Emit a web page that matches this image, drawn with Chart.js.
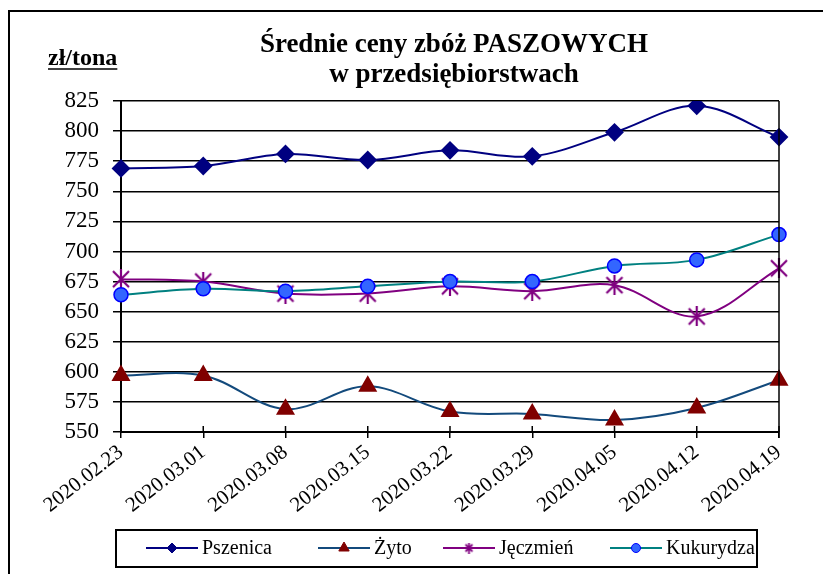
<!DOCTYPE html>
<html>
<head>
<meta charset="utf-8">
<script src="https://cdn.jsdelivr.net/npm/chart.js@4.4.1/dist/chart.umd.min.js"></script>
<style>
html,body{margin:0;padding:0;background:#fff;}
canvas{display:block;}
</style>
</head>
<body>
<canvas id="c" width="823" height="574"></canvas>
<script>
const categories = ['2020.02.23','2020.03.01','2020.03.08','2020.03.15','2020.03.22','2020.03.29','2020.04.05','2020.04.12','2020.04.19'];
const seriesNames = ['Pszenica','Żyto','Jęczmień','Kukurydza'];
const pszenica  = [769, 771, 781, 776, 784, 779, 799, 821, 795];
const zyto      = [597, 597, 569, 588, 567, 565, 560, 570, 593];
const jeczmien  = [677, 675, 665, 665, 671, 667, 672, 646, 686];
const kukurydza = [664, 669, 667, 671, 675, 675, 688, 693, 714];
const yMin = 550, yMax = 825, yStep = 25;
const titleLines = ['Średnie ceny zbóż PASZOWYCH','w przedsiębiorstwach'];
const unitLabel = 'zł/tona';

const FONT = "'Liberation Serif', 'Times New Roman', serif";

function makeStar(size, color, lw){
  const c = document.createElement('canvas');
  c.width = size; c.height = size;
  const g = c.getContext('2d');
  g.strokeStyle = color; g.lineWidth = lw;
  const m = 2, s = size;
  g.beginPath();
  g.moveTo(m, m); g.lineTo(s-m, s-m);
  g.moveTo(s-m, m); g.lineTo(m, s-m);
  g.moveTo(s/2, 0); g.lineTo(s/2, s);
  g.stroke();
  return c;
}
const starBig = makeStar(20, '#800080', 2.2);
const starSmall = makeStar(11, '#800080', 1.8);

const datasets = [
  {label: seriesNames[0], data: pszenica, borderColor:'#000080', backgroundColor:'#000080',
   pointBackgroundColor:'#000080', pointBorderColor:'#000080', pointStyle:'rectRot', pointRadius:8, order:4},
  {label: seriesNames[1], data: zyto, borderColor:'#134a7c', backgroundColor:'#800000',
   pointBackgroundColor:'#800000', pointBorderColor:'#800000', pointStyle:'triangle', pointRadius:9, order:3},
  {label: seriesNames[2], data: jeczmien, borderColor:'#800080', backgroundColor:'#800080',
   pointBackgroundColor:'#800080', pointBorderColor:'#800080', pointStyle:starBig, pointRadius:10, order:2},
  {label: seriesNames[3], data: kukurydza, borderColor:'#008080', backgroundColor:'#3366ff',
   pointBackgroundColor:'#3366ff', pointBorderColor:'#0000ff', pointBorderWidth:1.5, pointStyle:'circle', pointRadius:7, order:1}
];
datasets.forEach(d => { d.borderWidth = 2; d.tension = 0.35; d.fill = false; d.pointHoverRadius = d.pointRadius; });

const legendMarkers = [
  {style:'rectRot', r:5, fill:'#000080', stroke:'#000080'},
  {style:'triangle', r:6, fill:'#800000', stroke:'#800000'},
  {style:starSmall, r:6, fill:'#800080', stroke:'#800080'},
  {style:'circle', r:4.5, fill:'#3366ff', stroke:'#0000ff'}
];
const legendLineColors = ['#000080','#134a7c','#800080','#008080'];

const decor = {
  id:'decor',
  afterDraw(chart){
    const ctx = chart.ctx;
    const ca = chart.chartArea;
    const xs = chart.scales.x;
    ctx.save();
    // outer border
    ctx.strokeStyle = '#000'; ctx.lineWidth = 2;
    ctx.strokeRect(9, 11, 840, 600);
    // right plot edge
    ctx.lineWidth = 1.5;
    ctx.beginPath(); ctx.moveTo(ca.right, ca.top); ctx.lineTo(ca.right, ca.bottom + 6); ctx.stroke();
    // tick marks crossing into the plot
    xs.ticks.forEach((t, i) => {
      const x = xs.getPixelForTick(i);
      ctx.beginPath(); ctx.moveTo(x, ca.bottom - 6); ctx.lineTo(x, ca.bottom); ctx.stroke();
    });
    // title
    ctx.fillStyle = '#000';
    ctx.textAlign = 'center'; ctx.textBaseline = 'middle';
    ctx.font = 'bold 27px ' + FONT;
    ctx.fillText(titleLines[0], 454, 45);
    ctx.fillText(titleLines[1], 454, 75);
    // unit label
    ctx.font = 'bold 24px ' + FONT;
    ctx.textAlign = 'left'; ctx.textBaseline = 'alphabetic';
    ctx.fillText(unitLabel, 48, 65);
    const w = ctx.measureText(unitLabel).width;
    ctx.lineWidth = 1.5;
    ctx.beginPath(); ctx.moveTo(48, 69); ctx.lineTo(48 + w, 69); ctx.stroke();
    // legend
    ctx.lineWidth = 2;
    ctx.strokeRect(116, 530, 641, 37);
    const itemX = [146, 318, 443, 610];
    const ly = 548;
    ctx.font = '20px ' + FONT;
    ctx.textBaseline = 'middle';
    chart.data.datasets.forEach((d, i) => {
      const x0 = itemX[i];
      ctx.strokeStyle = legendLineColors[i]; ctx.lineWidth = 2;
      ctx.beginPath(); ctx.moveTo(x0, ly); ctx.lineTo(x0 + 52, ly); ctx.stroke();
      const m = legendMarkers[i];
      ctx.fillStyle = m.fill; ctx.strokeStyle = m.stroke; ctx.lineWidth = 1;
      Chart.helpers.drawPoint(ctx, {pointStyle:m.style, radius:m.r, rotation:0, borderWidth:1}, x0 + 26, ly);
      ctx.fillStyle = '#000';
      ctx.fillText(d.label, x0 + 56, ly + 1);
    });
    ctx.restore();
  }
};

new Chart(document.getElementById('c'), {
  type:'line',
  data:{labels:categories, datasets:datasets},
  options:{
    responsive:false, animation:false, devicePixelRatio:1,
    layout:{padding:{left:0, right:44, top:101, bottom:42}},
    plugins:{legend:{display:false}, title:{display:false}, tooltip:{enabled:false}},
    scales:{
      x:{
        offset:false,
        afterFit(s){ s.height = 100; },
        grid:{display:true, drawOnChartArea:false, drawTicks:true, tickLength:6, color:'#000', lineWidth:1.5},
        border:{display:true, color:'#000', width:2},
        ticks:{font:{family:FONT, size:21}, color:'#000', minRotation:38, maxRotation:38, padding:2, autoSkip:false}
      },
      y:{
        min:yMin, max:yMax,
        afterFit(s){ s.width = 121; },
        grid:{color:'#000', lineWidth:1.5, tickLength:8},
        border:{display:true, color:'#000', width:2},
        ticks:{stepSize:yStep, autoSkip:false, font:{family:FONT, size:23}, color:'#000', padding:14}
      }
    }
  },
  plugins:[decor]
});
</script>
</body>
</html>
